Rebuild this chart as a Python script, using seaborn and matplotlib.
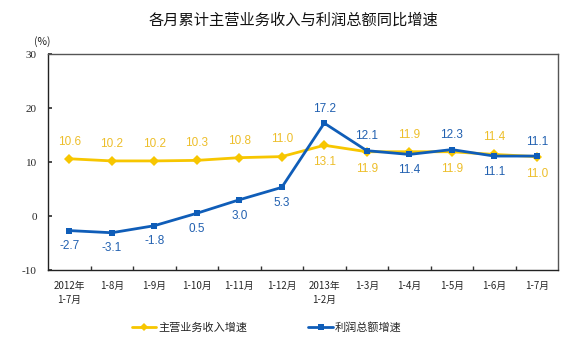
import matplotlib
matplotlib.use("Agg")
import matplotlib.pyplot as plt
import seaborn as sns
import pandas as pd
from matplotlib.lines import Line2D

sns.set_theme(style="white")
plt.rcParams['font.family'] = ['Noto Sans CJK SC', 'DejaVu Sans']

categories = ["2012年\n1-7月", "1-8月", "1-9月", "1-10月", "1-11月", "1-12月",
              "2013年\n1-2月", "1-3月", "1-4月", "1-5月", "1-6月", "1-7月"]
revenue = [10.6, 10.2, 10.2, 10.3, 10.8, 11.0, 13.1, 11.9, 11.9, 11.9, 11.4, 11.0]
profit = [-2.7, -3.1, -1.8, 0.5, 3.0, 5.3, 17.2, 12.1, 11.4, 12.3, 11.1, 11.1]
rev_label_above = [True, True, True, True, True, True, False, False, True, False, True, False]
prof_label_above = [False, False, False, False, False, False, True, True, False, True, False, True]
yticks = [-10, 0, 10, 20, 30]
series_names = ["主营业务收入增速", "利润总额增速"]

yellow = "#F7C600"
yellow_txt = "#EDBE2A"
blue = "#0F5DB8"
blue_txt = "#2160B0"

df = pd.DataFrame({"x": list(range(len(categories))) * 2,
                   "v": revenue + profit,
                   "s": [series_names[0]] * 12 + [series_names[1]] * 12})

fig = plt.figure(figsize=(5.86, 3.43), dpi=100)
ax = fig.add_axes([48 / 586, 1 - 270 / 343, 510 / 586, 216 / 343])

sns.lineplot(data=df, x="x", y="v", hue="s", style="s",
             palette={series_names[0]: yellow, series_names[1]: blue},
             markers={series_names[0]: "D", series_names[1]: "s"},
             dashes=False, markersize=5, linewidth=2, markeredgewidth=0,
             ax=ax, legend=False)

for i, (v, up) in enumerate(zip(revenue, rev_label_above)):
    ax.annotate(f"{v:.1f}", (i, v), xytext=(0, 8 if up else -8), textcoords="offset points",
                ha="center", va="bottom" if up else "top", color=yellow_txt, fontsize=8.5,
                family=["Liberation Sans", "DejaVu Sans"])
for i, (v, up) in enumerate(zip(profit, prof_label_above)):
    ax.annotate(f"{v:.1f}", (i, v), xytext=(0, 6 if up else -7), textcoords="offset points",
                ha="center", va="bottom" if up else "top", color=blue_txt, fontsize=8.5,
                family=["Liberation Sans", "DejaVu Sans"])

ax.set_xlim(-0.5, len(categories) - 0.5)
ax.set_ylim(-10, 30)
ax.set_yticks(yticks)
ax.set_yticklabels([str(t) for t in yticks], fontsize=8, family=["Liberation Serif", "DejaVu Serif"])
ax.set_xticks(range(len(categories)))
ax.set_xticklabels(categories, fontsize=7, linespacing=1.5)
ax.set_xticks([i + 0.5 for i in range(len(categories) - 1)], minor=True)
ax.tick_params(axis="x", which="major", length=0, pad=8)
ax.tick_params(axis="x", which="minor", direction="in", length=3, color="#333333", bottom=True)
ax.tick_params(axis="y", length=3, direction="in", color="#333333", left=True, pad=8)
ax.set_xlabel("")
ax.set_ylabel("")
for sp in ax.spines.values():
    sp.set_color("#555555")
    sp.set_linewidth(1)
ax.spines["bottom"].set_color("#222222")
ax.spines["left"].set_color("#222222")

fig.text(293 / 586, 1 - 20 / 343, "各月累计主营业务收入与利润总额同比增速", ha="center", va="center",
         fontsize=11, color="#111111")
fig.text(34 / 586, 1 - 42 / 343, "(%)", ha="left", va="center", fontsize=7.5, color="#222222")

handles = [Line2D([], [], color=yellow, marker="D", markersize=4, markeredgewidth=0, linewidth=2),
           Line2D([], [], color=blue, marker="s", markersize=4, markeredgewidth=0, linewidth=2)]
fig.legend(handles, series_names, loc="center", bbox_to_anchor=(0.455, 1 - 327 / 343),
           ncol=2, frameon=False, fontsize=8, columnspacing=5.5, handlelength=2.2, handletextpad=0.2)

fig.savefig("out.png", dpi=100)
